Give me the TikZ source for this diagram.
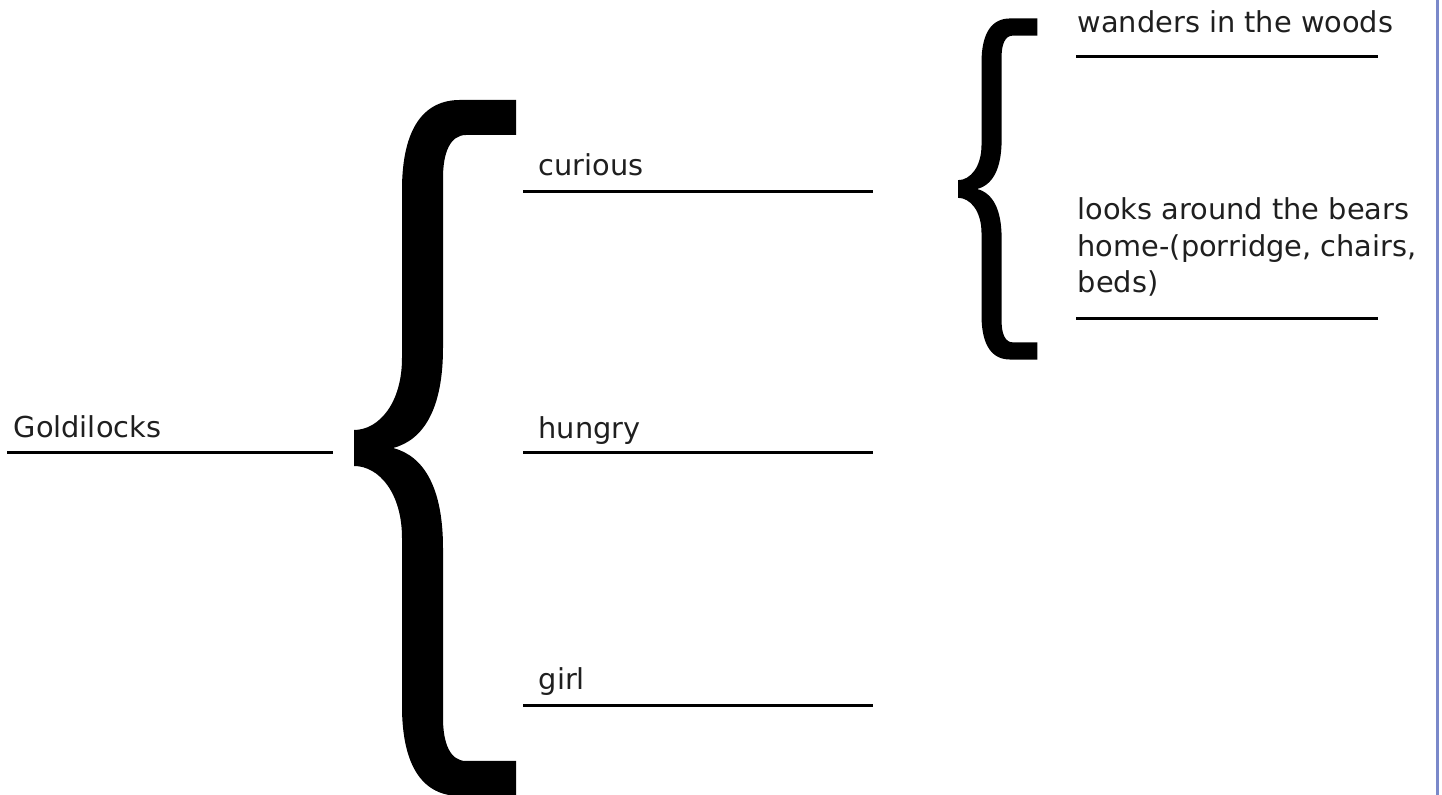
\documentclass[tikz,border=0pt]{standalone}
\usepackage{fontspec}
\setmainfont{DejaVu Sans}
\definecolor{rimblue}{RGB}{122,137,202}
\tikzset{
  lbl/.style={anchor=base west,inner sep=0pt,text=black!88,font=\fontsize{8.2}{10.4}\selectfont},
  uline/.style={line width=0.85pt},
  curly/.pic={
    \fill[x=0.1mm,y=0.1mm] (0,18) .. controls (25,18) and (48,45) .. (48,90)
      -- (48,258) .. controls (48,320) and (70,348) .. (106,348)
      -- (162,348) -- (162,313) -- (112,313)
      .. controls (96,313) and (89,295) .. (89,270)
      -- (89,100) .. controls (89,40) and (70,8) .. (39,0)
      .. controls (70,-8) and (89,-40) .. (89,-100)
      -- (89,-270) .. controls (89,-295) and (96,-313) .. (112,-313)
      -- (162,-313) -- (162,-348) -- (106,-348)
      .. controls (70,-348) and (48,-320) .. (48,-258)
      -- (48,-90) .. controls (48,-45) and (25,-18) .. (0,-18) -- cycle;
  }
}

\begin{document}
\begin{tikzpicture}
    \useasboundingbox (0,0) rectangle (14.42,-7.95);
    % braces
    \pic at (3.54,-4.48) {curly};
    \pic[scale=0.49] at (9.58,-1.89) {curly};
    % words
    \node[lbl] (gold)    at (0.13,-4.38)  {Goldilocks};
    \node[lbl] (curious) at (5.38,-1.76)  {curious};
    \node[lbl] (hungry)  at (5.38,-4.39)  {hungry};
    \node[lbl] (girl)    at (5.38,-6.90)  {girl};
    \node[lbl] (woods)   at (10.77,-0.33) {wanders in the woods};
    \node[lbl,anchor=north west,align=left] (home) at (10.77,-1.97)
          {looks around the bears\\home-(porridge, chairs,\\beds)};
    % lines under the words
    \draw[uline] (0.07,-4.53) -- (3.33,-4.53);
    \draw[uline] (5.23,-1.92) -- (8.73,-1.92);
    \draw[uline] (5.23,-4.53) -- (8.73,-4.53);
    \draw[uline] (5.23,-7.06) -- (8.73,-7.06);
    \draw[uline] (10.76,-0.57) -- (13.78,-0.57);
    \draw[uline] (10.76,-3.19) -- (13.78,-3.19);
    % page edge
    \draw[rimblue,line width=0.03cm] (14.37,0) -- (14.37,-7.95);
\end{tikzpicture}
\end{document}
